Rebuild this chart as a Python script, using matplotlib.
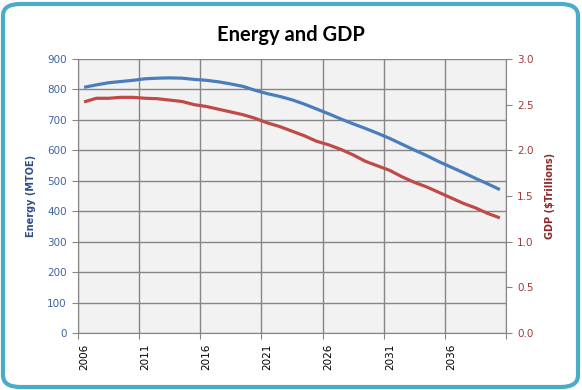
import matplotlib
matplotlib.use("Agg")
import matplotlib.pyplot as plt
from matplotlib.patches import FancyBboxPatch
from matplotlib.ticker import FixedLocator, NullFormatter

years = list(range(2006, 2041))
energy = [807, 815, 822, 826, 830, 835, 837, 838, 837, 833,
          830, 825, 818, 810, 797, 786, 777, 766, 752, 736,
          720, 703, 687, 672, 656, 639, 620, 601, 583, 563,
          545, 527, 508, 490, 471]
gdp = [2.53, 2.57, 2.57, 2.58, 2.58, 2.57, 2.565, 2.55, 2.535, 2.50,
       2.48, 2.45, 2.42, 2.39, 2.35, 2.30, 2.26, 2.21, 2.16, 2.10,
       2.06, 2.01, 1.95, 1.88, 1.83, 1.78, 1.71, 1.65, 1.60, 1.54,
       1.48, 1.42, 1.37, 1.31, 1.26]
label_years = [2006, 2011, 2016, 2021, 2026, 2031, 2036]

W, H = 582, 390
fig = plt.figure(figsize=(W / 100, H / 100), dpi=100)
fig.patch.set_facecolor("white")

# rounded chart border
border = FancyBboxPatch((3 / W, 3 / H), 1 - 7 / W, 1 - 7 / H,
                        boxstyle="round,pad=0,rounding_size=0.03",
                        transform=fig.transFigure, facecolor="none",
                        edgecolor="#4BACC6", linewidth=3, zorder=10)
fig.patches.append(border)

left, right, top, bottom = 78, 506, 59, 333
ax = fig.add_axes([left / W, 1 - bottom / H, (right - left) / W, (bottom - top) / H])
ax.set_facecolor("#F2F2F2")
ax2 = ax.twinx()

ax.plot(years, energy, color="#4A7EBB", lw=2.3, solid_capstyle="butt", zorder=3)
ax2.plot(years, gdp, color="#BE4B48", lw=2.3, solid_capstyle="butt", zorder=3)

ax.set_xlim(2005.5, 2040.5)
ax.set_ylim(0, 900)
ax2.set_ylim(0, 3.0)
ax.set_yticks(range(0, 901, 100))
ax2.set_yticks([0, 0.5, 1.0, 1.5, 2.0, 2.5, 3.0])
ax2.set_yticklabels(["%.1f" % v for v in [0, 0.5, 1.0, 1.5, 2.0, 2.5, 3.0]])

# category boundaries as major ticks, labels on minor ticks
ax.xaxis.set_major_locator(FixedLocator([2005.5 + 5 * i for i in range(8)]))
ax.xaxis.set_major_formatter(NullFormatter())
ax.xaxis.set_minor_locator(FixedLocator(label_years))
ax.set_xticklabels([str(y) for y in label_years], minor=True, rotation=90)
ax.tick_params(axis="x", which="minor", length=0, pad=8, labelsize=7.5, labelcolor="black")
ax.tick_params(axis="x", which="major", length=4, color="#868686")

ax.grid(True, which="major", color="#868686", lw=1)
ax.set_axisbelow(True)

for s in ["top", "right"]:
    ax.spines[s].set_visible(False)
    ax2.spines[s].set_visible(False)
ax2.spines["left"].set_visible(False)
ax2.spines["bottom"].set_visible(False)
for s in ["left", "bottom"]:
    ax.spines[s].set_color("#868686")
ax2.spines["right"].set_visible(True)
ax2.spines["right"].set_color("#868686")

ax.tick_params(axis="y", length=4, color="#868686", labelsize=7.5, labelcolor="#3D64A8", pad=4)
ax2.tick_params(axis="y", length=4, color="#868686", labelsize=7.5, labelcolor="#A0393B", pad=4)

ax.set_ylabel("Energy (MTOE)", color="#2E4E8C", fontsize=7, fontweight="bold", labelpad=8)
ax2.set_ylabel("GDP ($Trillions)", color="#8B2A2A", fontsize=7, fontweight="bold", labelpad=8)

fig.text(0.5, 1 - 35 / H, "Energy and GDP", ha="center", va="center",
         fontsize=14.5, fontweight="bold", family=["Lato", "DejaVu Sans"])

fig.savefig("out.png", dpi=100)
